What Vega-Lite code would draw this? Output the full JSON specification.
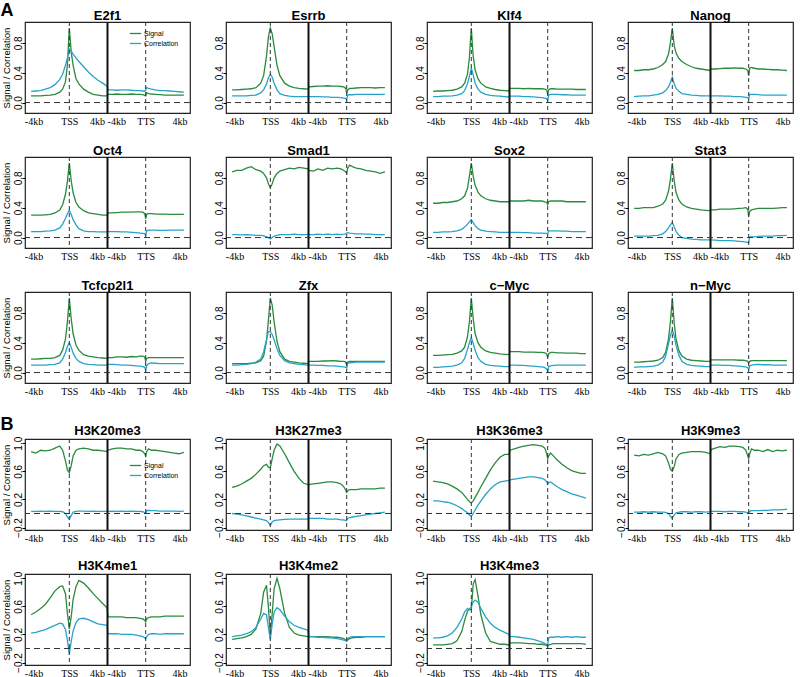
{
"$schema": "https://vega.github.io/schema/vega-lite/v6.json",
"background": "white",
"padding": {"left": 0, "top": 2, "right": 0, "bottom": 0},
"config": {
 "font": "Liberation Sans",
 "view": {"stroke": "#222", "strokeWidth": 1.2},
 "title": {"font": "Liberation Sans", "fontSize": 13, "fontWeight": "bold", "anchor": "middle", "offset": -2, "color": "#000"},
 "axisX": {"ticks": false, "domain": false, "grid": false, "labelFont": "Liberation Serif", "labelFontSize": 10, "labelColor": "#000", "labelPadding": 3, "labelOverlap": false, "labelFlush": false},
 "axisY": {"domain": false, "grid": false, "tickSize": 3, "tickColor": "#000", "labelAngle": -90, "labelAlign": "center", "labelBaseline": "alphabetic", "labelFont": "Liberation Sans", "labelFontSize": 10, "labelColor": "#000", "labelPadding": 1, "labelOverlap": false, "labelFlush": false, "titleFont": "Liberation Sans", "titleFontSize": 9.5, "titleFontWeight": "normal", "titleColor": "#000", "titlePadding": 2},
 "line": {"strokeWidth": 1.3},
 "rule": {"color": "#333", "strokeDash": [4, 3], "strokeWidth": 1}
},
"datasets": {
 "E2f1": [{"x":-4,"s":0.09,"c":0.15},{"x":-3.5,"s":0.09,"c":0.155},{"x":-3,"s":0.09,"c":0.16},{"x":-2.5,"s":0.095,"c":0.18},{"x":-2,"s":0.1,"c":0.2},{"x":-1.5,"s":0.11,"c":0.24},{"x":-1,"s":0.14,"c":0.31},{"x":-0.7,"s":0.18,"c":0.38},{"x":-0.4,"s":0.28,"c":0.5},{"x":-0.2,"s":0.5,"c":0.6},{"x":0,"s":1.0,"c":0.72},{"x":0.2,"s":0.68,"c":0.69},{"x":0.4,"s":0.5,"c":0.65},{"x":0.7,"s":0.32,"c":0.6},{"x":1,"s":0.25,"c":0.55},{"x":1.5,"s":0.18,"c":0.48},{"x":2,"s":0.14,"c":0.41},{"x":2.5,"s":0.11,"c":0.35},{"x":3,"s":0.1,"c":0.3},{"x":3.5,"s":0.09,"c":0.26},{"x":3.95,"s":0.09,"c":0.22},{"x":4.05,"s":0.11,"c":0.17},{"x":4.5,"s":0.11,"c":0.17},{"x":5,"s":0.115,"c":0.165},{"x":5.5,"s":0.11,"c":0.17},{"x":6,"s":0.11,"c":0.17},{"x":6.5,"s":0.115,"c":0.165},{"x":7,"s":0.11,"c":0.16},{"x":7.4,"s":0.11,"c":0.16},{"x":7.7,"s":0.105,"c":0.155},{"x":7.9,"s":0.095,"c":0.15},{"x":8,"s":0.09,"c":0.17},{"x":8.1,"s":0.13,"c":0.2},{"x":8.3,"s":0.12,"c":0.19},{"x":8.6,"s":0.115,"c":0.18},{"x":9,"s":0.11,"c":0.17},{"x":9.5,"s":0.105,"c":0.16},{"x":10,"s":0.1,"c":0.16},{"x":10.5,"s":0.1,"c":0.155},{"x":11,"s":0.1,"c":0.15},{"x":11.5,"s":0.1,"c":0.145},{"x":12,"s":0.1,"c":0.14}],
 "Esrrb": [{"x":-4,"s":0.17,"c":0.09},{"x":-3.5,"s":0.17,"c":0.09},{"x":-3,"s":0.175,"c":0.09},{"x":-2.5,"s":0.18,"c":0.09},{"x":-2,"s":0.185,"c":0.095},{"x":-1.5,"s":0.2,"c":0.1},{"x":-1,"s":0.26,"c":0.13},{"x":-0.7,"s":0.36,"c":0.17},{"x":-0.4,"s":0.62,"c":0.25},{"x":-0.2,"s":0.88,"c":0.33},{"x":0,"s":1.0,"c":0.38},{"x":0.2,"s":0.92,"c":0.34},{"x":0.4,"s":0.75,"c":0.26},{"x":0.7,"s":0.5,"c":0.17},{"x":1,"s":0.36,"c":0.12},{"x":1.5,"s":0.26,"c":0.095},{"x":2,"s":0.22,"c":0.085},{"x":2.5,"s":0.2,"c":0.08},{"x":3,"s":0.19,"c":0.08},{"x":3.5,"s":0.185,"c":0.08},{"x":3.95,"s":0.18,"c":0.08},{"x":4.05,"s":0.21,"c":0.08},{"x":4.5,"s":0.215,"c":0.08},{"x":5,"s":0.22,"c":0.08},{"x":5.5,"s":0.22,"c":0.075},{"x":6,"s":0.225,"c":0.075},{"x":6.5,"s":0.22,"c":0.07},{"x":7,"s":0.22,"c":0.07},{"x":7.4,"s":0.215,"c":0.065},{"x":7.7,"s":0.21,"c":0.06},{"x":7.9,"s":0.19,"c":0.055},{"x":8,"s":0.12,"c":0.04},{"x":8.1,"s":0.17,"c":0.1},{"x":8.3,"s":0.19,"c":0.105},{"x":8.6,"s":0.19,"c":0.105},{"x":9,"s":0.195,"c":0.11},{"x":9.5,"s":0.2,"c":0.11},{"x":10,"s":0.2,"c":0.11},{"x":10.5,"s":0.2,"c":0.11},{"x":11,"s":0.195,"c":0.11},{"x":11.5,"s":0.2,"c":0.11},{"x":12,"s":0.2,"c":0.11}],
 "Klf4": [{"x":-4,"s":0.15,"c":0.08},{"x":-3.5,"s":0.155,"c":0.08},{"x":-3,"s":0.155,"c":0.085},{"x":-2.5,"s":0.16,"c":0.085},{"x":-2,"s":0.165,"c":0.09},{"x":-1.5,"s":0.18,"c":0.1},{"x":-1,"s":0.21,"c":0.12},{"x":-0.7,"s":0.26,"c":0.16},{"x":-0.4,"s":0.38,"c":0.25},{"x":-0.2,"s":0.6,"c":0.35},{"x":0,"s":1.0,"c":0.46},{"x":0.2,"s":0.62,"c":0.37},{"x":0.4,"s":0.44,"c":0.26},{"x":0.7,"s":0.32,"c":0.18},{"x":1,"s":0.26,"c":0.14},{"x":1.5,"s":0.21,"c":0.11},{"x":2,"s":0.19,"c":0.095},{"x":2.5,"s":0.175,"c":0.09},{"x":3,"s":0.165,"c":0.085},{"x":3.5,"s":0.16,"c":0.08},{"x":3.95,"s":0.155,"c":0.075},{"x":4.05,"s":0.19,"c":0.085},{"x":4.5,"s":0.19,"c":0.085},{"x":5,"s":0.19,"c":0.085},{"x":5.5,"s":0.185,"c":0.08},{"x":6,"s":0.19,"c":0.08},{"x":6.5,"s":0.185,"c":0.075},{"x":7,"s":0.185,"c":0.07},{"x":7.4,"s":0.185,"c":0.065},{"x":7.7,"s":0.18,"c":0.06},{"x":7.9,"s":0.17,"c":0.05},{"x":8,"s":0.11,"c":0.03},{"x":8.1,"s":0.17,"c":0.1},{"x":8.3,"s":0.185,"c":0.11},{"x":8.6,"s":0.185,"c":0.11},{"x":9,"s":0.18,"c":0.11},{"x":9.5,"s":0.18,"c":0.105},{"x":10,"s":0.18,"c":0.105},{"x":10.5,"s":0.18,"c":0.1},{"x":11,"s":0.175,"c":0.1},{"x":11.5,"s":0.175,"c":0.1},{"x":12,"s":0.175,"c":0.1}],
 "Nanog": [{"x":-4,"s":0.43,"c":0.08},{"x":-3.5,"s":0.43,"c":0.085},{"x":-3,"s":0.44,"c":0.09},{"x":-2.5,"s":0.44,"c":0.09},{"x":-2,"s":0.45,"c":0.1},{"x":-1.5,"s":0.47,"c":0.11},{"x":-1,"s":0.51,"c":0.13},{"x":-0.7,"s":0.55,"c":0.16},{"x":-0.4,"s":0.65,"c":0.21},{"x":-0.2,"s":0.8,"c":0.27},{"x":0,"s":1.0,"c":0.34},{"x":0.2,"s":0.76,"c":0.25},{"x":0.4,"s":0.66,"c":0.19},{"x":0.7,"s":0.59,"c":0.15},{"x":1,"s":0.55,"c":0.12},{"x":1.5,"s":0.51,"c":0.11},{"x":2,"s":0.48,"c":0.1},{"x":2.5,"s":0.46,"c":0.095},{"x":3,"s":0.45,"c":0.09},{"x":3.5,"s":0.44,"c":0.09},{"x":3.95,"s":0.43,"c":0.09},{"x":4.05,"s":0.45,"c":0.09},{"x":4.5,"s":0.45,"c":0.09},{"x":5,"s":0.455,"c":0.09},{"x":5.5,"s":0.46,"c":0.085},{"x":6,"s":0.46,"c":0.085},{"x":6.5,"s":0.465,"c":0.08},{"x":7,"s":0.46,"c":0.08},{"x":7.4,"s":0.46,"c":0.075},{"x":7.7,"s":0.45,"c":0.07},{"x":7.9,"s":0.43,"c":0.065},{"x":8,"s":0.36,"c":0.05},{"x":8.1,"s":0.46,"c":0.11},{"x":8.3,"s":0.47,"c":0.11},{"x":8.6,"s":0.46,"c":0.11},{"x":9,"s":0.45,"c":0.105},{"x":9.5,"s":0.45,"c":0.1},{"x":10,"s":0.445,"c":0.1},{"x":10.5,"s":0.44,"c":0.1},{"x":11,"s":0.44,"c":0.1},{"x":11.5,"s":0.435,"c":0.1},{"x":12,"s":0.43,"c":0.1}],
 "Oct4": [{"x":-4,"s":0.3,"c":0.08},{"x":-3.5,"s":0.3,"c":0.08},{"x":-3,"s":0.3,"c":0.08},{"x":-2.5,"s":0.305,"c":0.085},{"x":-2,"s":0.31,"c":0.09},{"x":-1.5,"s":0.33,"c":0.1},{"x":-1,"s":0.37,"c":0.13},{"x":-0.7,"s":0.44,"c":0.18},{"x":-0.4,"s":0.58,"c":0.26},{"x":-0.2,"s":0.75,"c":0.32},{"x":0,"s":1.0,"c":0.37},{"x":0.2,"s":0.76,"c":0.31},{"x":0.4,"s":0.6,"c":0.24},{"x":0.7,"s":0.47,"c":0.17},{"x":1,"s":0.41,"c":0.12},{"x":1.5,"s":0.36,"c":0.09},{"x":2,"s":0.33,"c":0.08},{"x":2.5,"s":0.32,"c":0.08},{"x":3,"s":0.31,"c":0.075},{"x":3.5,"s":0.3,"c":0.075},{"x":3.95,"s":0.3,"c":0.075},{"x":4.05,"s":0.33,"c":0.08},{"x":4.5,"s":0.33,"c":0.08},{"x":5,"s":0.335,"c":0.08},{"x":5.5,"s":0.34,"c":0.075},{"x":6,"s":0.34,"c":0.075},{"x":6.5,"s":0.34,"c":0.07},{"x":7,"s":0.345,"c":0.065},{"x":7.4,"s":0.345,"c":0.06},{"x":7.7,"s":0.34,"c":0.055},{"x":7.9,"s":0.32,"c":0.05},{"x":8,"s":0.25,"c":0.03},{"x":8.1,"s":0.31,"c":0.09},{"x":8.3,"s":0.32,"c":0.1},{"x":8.6,"s":0.32,"c":0.1},{"x":9,"s":0.315,"c":0.1},{"x":9.5,"s":0.315,"c":0.095},{"x":10,"s":0.315,"c":0.095},{"x":10.5,"s":0.31,"c":0.1},{"x":11,"s":0.31,"c":0.1},{"x":11.5,"s":0.31,"c":0.1},{"x":12,"s":0.31,"c":0.1}],
 "Smad1": [{"x":-4,"s":0.88,"c":0.04},{"x":-3.5,"s":0.9,"c":0.04},{"x":-3,"s":0.9,"c":0.035},{"x":-2.5,"s":0.93,"c":0.04},{"x":-2,"s":0.95,"c":0.035},{"x":-1.5,"s":0.91,"c":0.03},{"x":-1,"s":0.89,"c":0.03},{"x":-0.7,"s":0.86,"c":0.025},{"x":-0.4,"s":0.8,"c":0.01},{"x":-0.2,"s":0.72,"c":0.0},{"x":0,"s":0.67,"c":-0.02},{"x":0.2,"s":0.72,"c":0.0},{"x":0.4,"s":0.8,"c":0.02},{"x":0.7,"s":0.86,"c":0.03},{"x":1,"s":0.89,"c":0.04},{"x":1.5,"s":0.91,"c":0.04},{"x":2,"s":0.93,"c":0.04},{"x":2.5,"s":0.92,"c":0.045},{"x":3,"s":0.94,"c":0.04},{"x":3.5,"s":0.93,"c":0.04},{"x":3.95,"s":0.92,"c":0.04},{"x":4.05,"s":0.9,"c":0.04},{"x":4.5,"s":0.89,"c":0.04},{"x":5,"s":0.92,"c":0.045},{"x":5.5,"s":0.9,"c":0.04},{"x":6,"s":0.93,"c":0.045},{"x":6.5,"s":0.92,"c":0.04},{"x":7,"s":0.93,"c":0.045},{"x":7.4,"s":0.92,"c":0.04},{"x":7.7,"s":0.9,"c":0.045},{"x":7.9,"s":0.88,"c":0.05},{"x":8,"s":0.86,"c":0.06},{"x":8.1,"s":0.93,"c":0.065},{"x":8.3,"s":0.97,"c":0.06},{"x":8.6,"s":0.95,"c":0.055},{"x":9,"s":0.93,"c":0.05},{"x":9.5,"s":0.92,"c":0.05},{"x":10,"s":0.9,"c":0.045},{"x":10.5,"s":0.89,"c":0.045},{"x":11,"s":0.88,"c":0.04},{"x":11.5,"s":0.86,"c":0.04},{"x":12,"s":0.88,"c":0.04}],
 "Sox2": [{"x":-4,"s":0.46,"c":0.07},{"x":-3.5,"s":0.46,"c":0.07},{"x":-3,"s":0.47,"c":0.075},{"x":-2.5,"s":0.47,"c":0.075},{"x":-2,"s":0.48,"c":0.08},{"x":-1.5,"s":0.49,"c":0.09},{"x":-1,"s":0.52,"c":0.11},{"x":-0.7,"s":0.56,"c":0.14},{"x":-0.4,"s":0.66,"c":0.18},{"x":-0.2,"s":0.82,"c":0.21},{"x":0,"s":1.0,"c":0.24},{"x":0.2,"s":0.82,"c":0.2},{"x":0.4,"s":0.7,"c":0.16},{"x":0.7,"s":0.61,"c":0.12},{"x":1,"s":0.56,"c":0.1},{"x":1.5,"s":0.52,"c":0.085},{"x":2,"s":0.5,"c":0.08},{"x":2.5,"s":0.49,"c":0.075},{"x":3,"s":0.48,"c":0.07},{"x":3.5,"s":0.48,"c":0.07},{"x":3.95,"s":0.48,"c":0.07},{"x":4.05,"s":0.49,"c":0.07},{"x":4.5,"s":0.49,"c":0.07},{"x":5,"s":0.49,"c":0.07},{"x":5.5,"s":0.49,"c":0.065},{"x":6,"s":0.5,"c":0.065},{"x":6.5,"s":0.49,"c":0.06},{"x":7,"s":0.49,"c":0.06},{"x":7.4,"s":0.49,"c":0.06},{"x":7.7,"s":0.48,"c":0.055},{"x":7.9,"s":0.47,"c":0.055},{"x":8,"s":0.44,"c":0.05},{"x":8.1,"s":0.48,"c":0.09},{"x":8.3,"s":0.49,"c":0.09},{"x":8.6,"s":0.49,"c":0.09},{"x":9,"s":0.49,"c":0.09},{"x":9.5,"s":0.49,"c":0.085},{"x":10,"s":0.48,"c":0.085},{"x":10.5,"s":0.48,"c":0.08},{"x":11,"s":0.48,"c":0.08},{"x":11.5,"s":0.48,"c":0.08},{"x":12,"s":0.48,"c":0.08}],
 "Stat3": [{"x":-4,"s":0.39,"c":0.02},{"x":-3.5,"s":0.39,"c":0.02},{"x":-3,"s":0.4,"c":0.02},{"x":-2.5,"s":0.4,"c":0.02},{"x":-2,"s":0.4,"c":0.025},{"x":-1.5,"s":0.42,"c":0.03},{"x":-1,"s":0.45,"c":0.05},{"x":-0.7,"s":0.5,"c":0.08},{"x":-0.4,"s":0.62,"c":0.13},{"x":-0.2,"s":0.78,"c":0.17},{"x":0,"s":1.0,"c":0.2},{"x":0.2,"s":0.76,"c":0.14},{"x":0.4,"s":0.6,"c":0.08},{"x":0.7,"s":0.5,"c":0.03},{"x":1,"s":0.45,"c":0.0},{"x":1.5,"s":0.41,"c":-0.01},{"x":2,"s":0.39,"c":-0.02},{"x":2.5,"s":0.38,"c":-0.025},{"x":3,"s":0.37,"c":-0.03},{"x":3.5,"s":0.365,"c":-0.03},{"x":3.95,"s":0.36,"c":-0.03},{"x":4.05,"s":0.37,"c":-0.03},{"x":4.5,"s":0.37,"c":-0.035},{"x":5,"s":0.38,"c":-0.04},{"x":5.5,"s":0.38,"c":-0.04},{"x":6,"s":0.38,"c":-0.04},{"x":6.5,"s":0.385,"c":-0.045},{"x":7,"s":0.39,"c":-0.05},{"x":7.4,"s":0.395,"c":-0.055},{"x":7.7,"s":0.4,"c":-0.06},{"x":7.9,"s":0.38,"c":-0.065},{"x":8,"s":0.28,"c":-0.07},{"x":8.1,"s":0.35,"c":0.01},{"x":8.3,"s":0.37,"c":0.01},{"x":8.6,"s":0.38,"c":0.01},{"x":9,"s":0.39,"c":0.015},{"x":9.5,"s":0.39,"c":0.02},{"x":10,"s":0.39,"c":0.02},{"x":10.5,"s":0.39,"c":0.02},{"x":11,"s":0.395,"c":0.025},{"x":11.5,"s":0.4,"c":0.025},{"x":12,"s":0.4,"c":0.03}],
 "Tcfcp2l1": [{"x":-4,"s":0.18,"c":0.1},{"x":-3.5,"s":0.18,"c":0.1},{"x":-3,"s":0.185,"c":0.1},{"x":-2.5,"s":0.19,"c":0.1},{"x":-2,"s":0.19,"c":0.105},{"x":-1.5,"s":0.2,"c":0.11},{"x":-1,"s":0.23,"c":0.13},{"x":-0.7,"s":0.3,"c":0.18},{"x":-0.4,"s":0.45,"c":0.27},{"x":-0.2,"s":0.68,"c":0.35},{"x":0,"s":1.0,"c":0.4},{"x":0.2,"s":0.72,"c":0.34},{"x":0.4,"s":0.52,"c":0.26},{"x":0.7,"s":0.37,"c":0.19},{"x":1,"s":0.3,"c":0.15},{"x":1.5,"s":0.24,"c":0.12},{"x":2,"s":0.22,"c":0.11},{"x":2.5,"s":0.21,"c":0.105},{"x":3,"s":0.2,"c":0.1},{"x":3.5,"s":0.195,"c":0.1},{"x":3.95,"s":0.19,"c":0.1},{"x":4.05,"s":0.2,"c":0.11},{"x":4.5,"s":0.2,"c":0.11},{"x":5,"s":0.21,"c":0.105},{"x":5.5,"s":0.21,"c":0.1},{"x":6,"s":0.205,"c":0.1},{"x":6.5,"s":0.215,"c":0.095},{"x":7,"s":0.21,"c":0.09},{"x":7.4,"s":0.22,"c":0.085},{"x":7.7,"s":0.22,"c":0.08},{"x":7.9,"s":0.21,"c":0.07},{"x":8,"s":0.15,"c":0.03},{"x":8.1,"s":0.19,"c":0.09},{"x":8.3,"s":0.2,"c":0.12},{"x":8.6,"s":0.2,"c":0.13},{"x":9,"s":0.2,"c":0.125},{"x":9.5,"s":0.2,"c":0.12},{"x":10,"s":0.2,"c":0.12},{"x":10.5,"s":0.2,"c":0.12},{"x":11,"s":0.2,"c":0.12},{"x":11.5,"s":0.2,"c":0.12},{"x":12,"s":0.2,"c":0.12}],
 "Zfx": [{"x":-4,"s":0.12,"c":0.1},{"x":-3.5,"s":0.12,"c":0.1},{"x":-3,"s":0.12,"c":0.105},{"x":-2.5,"s":0.12,"c":0.11},{"x":-2,"s":0.125,"c":0.12},{"x":-1.5,"s":0.13,"c":0.14},{"x":-1,"s":0.16,"c":0.18},{"x":-0.7,"s":0.22,"c":0.28},{"x":-0.4,"s":0.42,"c":0.44},{"x":-0.2,"s":0.7,"c":0.55},{"x":0,"s":1.0,"c":0.55},{"x":0.2,"s":0.9,"c":0.51},{"x":0.4,"s":0.68,"c":0.44},{"x":0.7,"s":0.42,"c":0.32},{"x":1,"s":0.28,"c":0.23},{"x":1.5,"s":0.18,"c":0.16},{"x":2,"s":0.15,"c":0.13},{"x":2.5,"s":0.14,"c":0.12},{"x":3,"s":0.13,"c":0.11},{"x":3.5,"s":0.125,"c":0.105},{"x":3.95,"s":0.12,"c":0.1},{"x":4.05,"s":0.15,"c":0.1},{"x":4.5,"s":0.15,"c":0.1},{"x":5,"s":0.15,"c":0.095},{"x":5.5,"s":0.155,"c":0.095},{"x":6,"s":0.155,"c":0.09},{"x":6.5,"s":0.16,"c":0.09},{"x":7,"s":0.155,"c":0.085},{"x":7.4,"s":0.15,"c":0.08},{"x":7.7,"s":0.15,"c":0.075},{"x":7.9,"s":0.14,"c":0.07},{"x":8,"s":0.1,"c":0.06},{"x":8.1,"s":0.14,"c":0.12},{"x":8.3,"s":0.15,"c":0.13},{"x":8.6,"s":0.15,"c":0.135},{"x":9,"s":0.15,"c":0.14},{"x":9.5,"s":0.15,"c":0.14},{"x":10,"s":0.15,"c":0.14},{"x":10.5,"s":0.15,"c":0.14},{"x":11,"s":0.15,"c":0.14},{"x":11.5,"s":0.15,"c":0.14},{"x":12,"s":0.15,"c":0.14}],
 "c-Myc": [{"x":-4,"s":0.23,"c":0.07},{"x":-3.5,"s":0.23,"c":0.07},{"x":-3,"s":0.235,"c":0.075},{"x":-2.5,"s":0.24,"c":0.08},{"x":-2,"s":0.245,"c":0.085},{"x":-1.5,"s":0.26,"c":0.1},{"x":-1,"s":0.29,"c":0.13},{"x":-0.7,"s":0.34,"c":0.19},{"x":-0.4,"s":0.48,"c":0.31},{"x":-0.2,"s":0.68,"c":0.4},{"x":0,"s":1.0,"c":0.47},{"x":0.2,"s":0.72,"c":0.39},{"x":0.4,"s":0.52,"c":0.3},{"x":0.7,"s":0.4,"c":0.2},{"x":1,"s":0.34,"c":0.15},{"x":1.5,"s":0.29,"c":0.11},{"x":2,"s":0.27,"c":0.095},{"x":2.5,"s":0.26,"c":0.09},{"x":3,"s":0.25,"c":0.085},{"x":3.5,"s":0.245,"c":0.08},{"x":3.95,"s":0.24,"c":0.08},{"x":4.05,"s":0.28,"c":0.1},{"x":4.5,"s":0.28,"c":0.1},{"x":5,"s":0.28,"c":0.095},{"x":5.5,"s":0.275,"c":0.095},{"x":6,"s":0.275,"c":0.09},{"x":6.5,"s":0.275,"c":0.085},{"x":7,"s":0.27,"c":0.08},{"x":7.4,"s":0.27,"c":0.075},{"x":7.7,"s":0.265,"c":0.065},{"x":7.9,"s":0.25,"c":0.05},{"x":8,"s":0.2,"c":0.01},{"x":8.1,"s":0.25,"c":0.08},{"x":8.3,"s":0.27,"c":0.09},{"x":8.6,"s":0.27,"c":0.095},{"x":9,"s":0.265,"c":0.1},{"x":9.5,"s":0.265,"c":0.1},{"x":10,"s":0.26,"c":0.1},{"x":10.5,"s":0.26,"c":0.1},{"x":11,"s":0.26,"c":0.1},{"x":11.5,"s":0.255,"c":0.1},{"x":12,"s":0.255,"c":0.1}],
 "n-Myc": [{"x":-4,"s":0.14,"c":0.07},{"x":-3.5,"s":0.14,"c":0.075},{"x":-3,"s":0.145,"c":0.075},{"x":-2.5,"s":0.15,"c":0.08},{"x":-2,"s":0.155,"c":0.085},{"x":-1.5,"s":0.165,"c":0.1},{"x":-1,"s":0.2,"c":0.14},{"x":-0.7,"s":0.27,"c":0.22},{"x":-0.4,"s":0.45,"c":0.38},{"x":-0.2,"s":0.68,"c":0.5},{"x":0,"s":1.0,"c":0.57},{"x":0.2,"s":0.66,"c":0.49},{"x":0.4,"s":0.44,"c":0.36},{"x":0.7,"s":0.29,"c":0.23},{"x":1,"s":0.22,"c":0.15},{"x":1.5,"s":0.18,"c":0.11},{"x":2,"s":0.165,"c":0.095},{"x":2.5,"s":0.16,"c":0.09},{"x":3,"s":0.155,"c":0.085},{"x":3.5,"s":0.15,"c":0.08},{"x":3.95,"s":0.15,"c":0.08},{"x":4.05,"s":0.17,"c":0.1},{"x":4.5,"s":0.17,"c":0.1},{"x":5,"s":0.17,"c":0.1},{"x":5.5,"s":0.17,"c":0.095},{"x":6,"s":0.17,"c":0.095},{"x":6.5,"s":0.17,"c":0.09},{"x":7,"s":0.165,"c":0.085},{"x":7.4,"s":0.165,"c":0.08},{"x":7.7,"s":0.16,"c":0.075},{"x":7.9,"s":0.15,"c":0.065},{"x":8,"s":0.12,"c":0.04},{"x":8.1,"s":0.15,"c":0.09},{"x":8.3,"s":0.16,"c":0.1},{"x":8.6,"s":0.16,"c":0.105},{"x":9,"s":0.16,"c":0.11},{"x":9.5,"s":0.16,"c":0.105},{"x":10,"s":0.16,"c":0.105},{"x":10.5,"s":0.16,"c":0.1},{"x":11,"s":0.16,"c":0.1},{"x":11.5,"s":0.16,"c":0.1},{"x":12,"s":0.16,"c":0.1}],
 "H3K20me3": [{"x":-4,"s":0.88,"c":0.03},{"x":-3.5,"s":0.86,"c":0.03},{"x":-3,"s":0.9,"c":0.035},{"x":-2.5,"s":0.89,"c":0.03},{"x":-2,"s":0.9,"c":0.035},{"x":-1.5,"s":0.93,"c":0.03},{"x":-1,"s":0.96,"c":0.03},{"x":-0.7,"s":0.9,"c":0.025},{"x":-0.4,"s":0.75,"c":0.0},{"x":-0.2,"s":0.62,"c":-0.05},{"x":0,"s":0.58,"c":-0.08},{"x":0.2,"s":0.68,"c":-0.03},{"x":0.4,"s":0.82,"c":0.02},{"x":0.7,"s":0.9,"c":0.03},{"x":1,"s":0.92,"c":0.035},{"x":1.5,"s":0.93,"c":0.035},{"x":2,"s":0.92,"c":0.03},{"x":2.5,"s":0.9,"c":0.035},{"x":3,"s":0.9,"c":0.03},{"x":3.5,"s":0.89,"c":0.03},{"x":3.95,"s":0.88,"c":0.03},{"x":4.05,"s":0.9,"c":0.03},{"x":4.5,"s":0.92,"c":0.035},{"x":5,"s":0.93,"c":0.03},{"x":5.5,"s":0.93,"c":0.035},{"x":6,"s":0.92,"c":0.03},{"x":6.5,"s":0.92,"c":0.035},{"x":7,"s":0.9,"c":0.03},{"x":7.4,"s":0.9,"c":0.03},{"x":7.7,"s":0.88,"c":0.025},{"x":7.9,"s":0.85,"c":0.01},{"x":8,"s":0.82,"c":0.0},{"x":8.1,"s":0.88,"c":0.04},{"x":8.3,"s":0.92,"c":0.045},{"x":8.6,"s":0.9,"c":0.04},{"x":9,"s":0.9,"c":0.04},{"x":9.5,"s":0.89,"c":0.035},{"x":10,"s":0.88,"c":0.035},{"x":10.5,"s":0.87,"c":0.035},{"x":11,"s":0.86,"c":0.035},{"x":11.5,"s":0.85,"c":0.03},{"x":12,"s":0.87,"c":0.035}],
 "H3K27me3": [{"x":-4,"s":0.37,"c":0.0},{"x":-3.5,"s":0.39,"c":-0.01},{"x":-3,"s":0.42,"c":-0.02},{"x":-2.5,"s":0.46,"c":-0.035},{"x":-2,"s":0.5,"c":-0.05},{"x":-1.5,"s":0.56,"c":-0.065},{"x":-1,"s":0.63,"c":-0.08},{"x":-0.7,"s":0.68,"c":-0.09},{"x":-0.4,"s":0.7,"c":-0.1},{"x":-0.2,"s":0.66,"c":-0.13},{"x":0,"s":0.65,"c":-0.17},{"x":0.2,"s":0.78,"c":-0.12},{"x":0.4,"s":0.9,"c":-0.1},{"x":0.7,"s":0.99,"c":-0.095},{"x":1,"s":0.96,"c":-0.09},{"x":1.5,"s":0.85,"c":-0.085},{"x":2,"s":0.72,"c":-0.08},{"x":2.5,"s":0.6,"c":-0.08},{"x":3,"s":0.5,"c":-0.08},{"x":3.5,"s":0.43,"c":-0.08},{"x":3.95,"s":0.41,"c":-0.08},{"x":4.05,"s":0.41,"c":-0.07},{"x":4.5,"s":0.42,"c":-0.07},{"x":5,"s":0.43,"c":-0.07},{"x":5.5,"s":0.44,"c":-0.07},{"x":6,"s":0.45,"c":-0.08},{"x":6.5,"s":0.45,"c":-0.08},{"x":7,"s":0.44,"c":-0.08},{"x":7.4,"s":0.42,"c":-0.09},{"x":7.7,"s":0.38,"c":-0.09},{"x":7.9,"s":0.33,"c":-0.1},{"x":8,"s":0.3,"c":-0.1},{"x":8.1,"s":0.32,"c":-0.07},{"x":8.3,"s":0.34,"c":-0.06},{"x":8.6,"s":0.34,"c":-0.05},{"x":9,"s":0.34,"c":-0.04},{"x":9.5,"s":0.35,"c":-0.03},{"x":10,"s":0.35,"c":-0.02},{"x":10.5,"s":0.35,"c":-0.01},{"x":11,"s":0.35,"c":0.0},{"x":11.5,"s":0.36,"c":0.01},{"x":12,"s":0.36,"c":0.02}],
 "H3K36me3": [{"x":-4,"s":0.46,"c":0.18},{"x":-3.5,"s":0.45,"c":0.18},{"x":-3,"s":0.44,"c":0.17},{"x":-2.5,"s":0.42,"c":0.16},{"x":-2,"s":0.39,"c":0.14},{"x":-1.5,"s":0.35,"c":0.11},{"x":-1,"s":0.3,"c":0.07},{"x":-0.7,"s":0.25,"c":0.04},{"x":-0.4,"s":0.2,"c":0.01},{"x":-0.2,"s":0.17,"c":-0.02},{"x":0,"s":0.15,"c":-0.04},{"x":0.2,"s":0.18,"c":0.0},{"x":0.4,"s":0.23,"c":0.05},{"x":0.7,"s":0.3,"c":0.12},{"x":1,"s":0.38,"c":0.18},{"x":1.5,"s":0.5,"c":0.27},{"x":2,"s":0.62,"c":0.35},{"x":2.5,"s":0.72,"c":0.41},{"x":3,"s":0.8,"c":0.45},{"x":3.5,"s":0.84,"c":0.46},{"x":3.95,"s":0.84,"c":0.47},{"x":4.05,"s":0.9,"c":0.48},{"x":4.5,"s":0.92,"c":0.49},{"x":5,"s":0.94,"c":0.5},{"x":5.5,"s":0.96,"c":0.51},{"x":6,"s":0.97,"c":0.52},{"x":6.5,"s":0.98,"c":0.52},{"x":7,"s":0.97,"c":0.51},{"x":7.4,"s":0.96,"c":0.5},{"x":7.7,"s":0.93,"c":0.48},{"x":7.9,"s":0.85,"c":0.45},{"x":8,"s":0.78,"c":0.42},{"x":8.1,"s":0.82,"c":0.44},{"x":8.3,"s":0.86,"c":0.45},{"x":8.6,"s":0.82,"c":0.42},{"x":9,"s":0.76,"c":0.38},{"x":9.5,"s":0.7,"c":0.34},{"x":10,"s":0.65,"c":0.31},{"x":10.5,"s":0.61,"c":0.28},{"x":11,"s":0.59,"c":0.26},{"x":11.5,"s":0.57,"c":0.24},{"x":12,"s":0.57,"c":0.22}],
 "H3K9me3": [{"x":-4,"s":0.83,"c":0.02},{"x":-3.5,"s":0.82,"c":0.02},{"x":-3,"s":0.84,"c":0.025},{"x":-2.5,"s":0.83,"c":0.02},{"x":-2,"s":0.85,"c":0.025},{"x":-1.5,"s":0.87,"c":0.02},{"x":-1,"s":0.85,"c":0.02},{"x":-0.7,"s":0.82,"c":0.015},{"x":-0.4,"s":0.72,"c":0.0},{"x":-0.2,"s":0.63,"c":-0.04},{"x":0,"s":0.6,"c":-0.07},{"x":0.2,"s":0.67,"c":-0.02},{"x":0.4,"s":0.78,"c":0.01},{"x":0.7,"s":0.84,"c":0.02},{"x":1,"s":0.86,"c":0.025},{"x":1.5,"s":0.87,"c":0.025},{"x":2,"s":0.88,"c":0.02},{"x":2.5,"s":0.88,"c":0.025},{"x":3,"s":0.88,"c":0.025},{"x":3.5,"s":0.87,"c":0.02},{"x":3.95,"s":0.85,"c":0.025},{"x":4.05,"s":0.91,"c":0.03},{"x":4.5,"s":0.93,"c":0.03},{"x":5,"s":0.95,"c":0.03},{"x":5.5,"s":0.94,"c":0.025},{"x":6,"s":0.96,"c":0.03},{"x":6.5,"s":0.96,"c":0.03},{"x":7,"s":0.95,"c":0.025},{"x":7.4,"s":0.94,"c":0.025},{"x":7.7,"s":0.9,"c":0.02},{"x":7.9,"s":0.82,"c":0.01},{"x":8,"s":0.78,"c":0.0},{"x":8.1,"s":0.85,"c":0.03},{"x":8.3,"s":0.92,"c":0.04},{"x":8.6,"s":0.9,"c":0.04},{"x":9,"s":0.9,"c":0.04},{"x":9.5,"s":0.88,"c":0.045},{"x":10,"s":0.91,"c":0.045},{"x":10.5,"s":0.88,"c":0.05},{"x":11,"s":0.9,"c":0.05},{"x":11.5,"s":0.89,"c":0.055},{"x":12,"s":0.9,"c":0.06}],
 "H3K4me1": [{"x":-4,"s":0.48,"c":0.22},{"x":-3.5,"s":0.52,"c":0.23},{"x":-3,"s":0.57,"c":0.25},{"x":-2.5,"s":0.63,"c":0.27},{"x":-2,"s":0.72,"c":0.3},{"x":-1.5,"s":0.82,"c":0.33},{"x":-1,"s":0.88,"c":0.36},{"x":-0.7,"s":0.89,"c":0.35},{"x":-0.4,"s":0.78,"c":0.27},{"x":-0.2,"s":0.5,"c":0.12},{"x":0,"s":0.28,"c":-0.08},{"x":0.2,"s":0.45,"c":0.1},{"x":0.4,"s":0.7,"c":0.25},{"x":0.7,"s":0.88,"c":0.37},{"x":1,"s":0.97,"c":0.42},{"x":1.5,"s":0.93,"c":0.43},{"x":2,"s":0.86,"c":0.41},{"x":2.5,"s":0.78,"c":0.38},{"x":3,"s":0.71,"c":0.35},{"x":3.5,"s":0.64,"c":0.34},{"x":3.95,"s":0.58,"c":0.33},{"x":4.05,"s":0.45,"c":0.21},{"x":4.5,"s":0.45,"c":0.21},{"x":5,"s":0.45,"c":0.21},{"x":5.5,"s":0.45,"c":0.2},{"x":6,"s":0.44,"c":0.2},{"x":6.5,"s":0.44,"c":0.2},{"x":7,"s":0.44,"c":0.19},{"x":7.4,"s":0.43,"c":0.18},{"x":7.7,"s":0.42,"c":0.17},{"x":7.9,"s":0.4,"c":0.15},{"x":8,"s":0.38,"c":0.14},{"x":8.1,"s":0.42,"c":0.17},{"x":8.3,"s":0.44,"c":0.2},{"x":8.6,"s":0.45,"c":0.21},{"x":9,"s":0.45,"c":0.21},{"x":9.5,"s":0.45,"c":0.2},{"x":10,"s":0.46,"c":0.21},{"x":10.5,"s":0.46,"c":0.21},{"x":11,"s":0.46,"c":0.21},{"x":11.5,"s":0.46,"c":0.21},{"x":12,"s":0.46,"c":0.21}],
 "H3K4me2": [{"x":-4,"s":0.13,"c":0.17},{"x":-3.5,"s":0.14,"c":0.18},{"x":-3,"s":0.15,"c":0.19},{"x":-2.5,"s":0.17,"c":0.21},{"x":-2,"s":0.2,"c":0.24},{"x":-1.5,"s":0.28,"c":0.3},{"x":-1,"s":0.5,"c":0.42},{"x":-0.7,"s":0.8,"c":0.5},{"x":-0.4,"s":0.9,"c":0.48},{"x":-0.2,"s":0.6,"c":0.3},{"x":0,"s":0.17,"c":0.13},{"x":0.2,"s":0.5,"c":0.35},{"x":0.4,"s":0.85,"c":0.52},{"x":0.7,"s":1.0,"c":0.58},{"x":1,"s":0.85,"c":0.55},{"x":1.5,"s":0.5,"c":0.46},{"x":2,"s":0.3,"c":0.38},{"x":2.5,"s":0.22,"c":0.33},{"x":3,"s":0.19,"c":0.3},{"x":3.5,"s":0.18,"c":0.28},{"x":3.95,"s":0.17,"c":0.26},{"x":4.05,"s":0.17,"c":0.17},{"x":4.5,"s":0.17,"c":0.17},{"x":5,"s":0.17,"c":0.16},{"x":5.5,"s":0.17,"c":0.16},{"x":6,"s":0.17,"c":0.15},{"x":6.5,"s":0.16,"c":0.15},{"x":7,"s":0.16,"c":0.14},{"x":7.4,"s":0.15,"c":0.13},{"x":7.7,"s":0.14,"c":0.12},{"x":7.9,"s":0.12,"c":0.11},{"x":8,"s":0.11,"c":0.1},{"x":8.1,"s":0.12,"c":0.14},{"x":8.3,"s":0.14,"c":0.16},{"x":8.6,"s":0.15,"c":0.17},{"x":9,"s":0.16,"c":0.17},{"x":9.5,"s":0.16,"c":0.17},{"x":10,"s":0.17,"c":0.17},{"x":10.5,"s":0.17,"c":0.17},{"x":11,"s":0.17,"c":0.17},{"x":11.5,"s":0.17,"c":0.17},{"x":12,"s":0.17,"c":0.17}],
 "H3K4me3": [{"x":-4,"s":0.05,"c":0.15},{"x":-3.5,"s":0.05,"c":0.15},{"x":-3,"s":0.05,"c":0.16},{"x":-2.5,"s":0.06,"c":0.18},{"x":-2,"s":0.07,"c":0.22},{"x":-1.5,"s":0.11,"c":0.3},{"x":-1,"s":0.24,"c":0.42},{"x":-0.7,"s":0.4,"c":0.52},{"x":-0.4,"s":0.53,"c":0.57},{"x":-0.2,"s":0.56,"c":0.55},{"x":0,"s":0.55,"c":0.6},{"x":0.2,"s":0.92,"c":0.66},{"x":0.4,"s":0.98,"c":0.69},{"x":0.7,"s":0.75,"c":0.66},{"x":1,"s":0.48,"c":0.57},{"x":1.5,"s":0.22,"c":0.45},{"x":2,"s":0.1,"c":0.36},{"x":2.5,"s":0.08,"c":0.3},{"x":3,"s":0.06,"c":0.26},{"x":3.5,"s":0.06,"c":0.23},{"x":3.95,"s":0.05,"c":0.2},{"x":4.05,"s":0.08,"c":0.17},{"x":4.5,"s":0.08,"c":0.17},{"x":5,"s":0.08,"c":0.16},{"x":5.5,"s":0.075,"c":0.15},{"x":6,"s":0.07,"c":0.14},{"x":6.5,"s":0.07,"c":0.13},{"x":7,"s":0.06,"c":0.11},{"x":7.4,"s":0.06,"c":0.09},{"x":7.7,"s":0.05,"c":0.07},{"x":7.9,"s":0.04,"c":0.06},{"x":8,"s":0.03,"c":0.05},{"x":8.1,"s":0.05,"c":0.15},{"x":8.3,"s":0.06,"c":0.16},{"x":8.6,"s":0.07,"c":0.16},{"x":9,"s":0.07,"c":0.17},{"x":9.5,"s":0.07,"c":0.16},{"x":10,"s":0.07,"c":0.17},{"x":10.5,"s":0.07,"c":0.16},{"x":11,"s":0.07,"c":0.17},{"x":11.5,"s":0.07,"c":0.16},{"x":12,"s":0.06,"c":0.16}]
},
"spacing": 18,
"resolve": {"scale": {"color": "independent"}},
"vconcat": [
 {"title": {"text": "A", "anchor": "start", "fontSize": 18, "offset": -11},
  "spacing": 17,
  "resolve": {"scale": {"color": "independent"}},
  "vconcat": [
   {"spacing": 21, "resolve": {"scale": {"color": "independent"}}, "hconcat": [
    {"title": "E2f1", "width": 165, "height": 91, "layer": [
      {"data": {"name": "E2f1"}, "transform": [{"fold": ["s", "c"]}], "mark": "line", "encoding": {
        "x": {"field": "x", "type": "quantitative", "title": null, "scale": {"domain": [-4.64, 12.64], "nice": false, "zero": false}, "axis": {"values": [-3.75, 0, 4, 8, 11.55], "labelOverlap": false, "labelExpr": "datum.value<-1?'-4kb':datum.value==0?'TSS':datum.value==4?'4kb -4kb':datum.value==8?'TTS':'4kb'"}},
        "y": {"field": "value", "type": "quantitative", "title": "Signal / Correlation", "scale": {"domain": [-0.14, 1.08], "nice": false, "zero": false}, "axis": {"values": [0, 0.2, 0.4, 0.6, 0.8, 1], "labelOverlap": false, "labelExpr": "datum.value==0||datum.value==0.4||datum.value==0.8?format(datum.value,'.1f'):''"}},
        "color": {"field": "key", "type": "nominal", "scale": {"domain": ["s", "c"], "range": ["#2a8a3e", "#27a3cb"]}, "legend": {"orient": "none", "legendX": 104, "legendY": 5, "title": null, "symbolType": "stroke", "symbolSize": 130, "symbolStrokeWidth": 1.5, "labelFontSize": 7, "labelFont": "Liberation Sans", "labelExpr": "datum.label=='s'?'Signal':'Correlation'", "rowPadding": -2, "labelOffset": 2, "padding": 0}}}},
      {"data": {"values": [{}]}, "mark": "rule", "encoding": {"x": {"datum": 0}}},
      {"data": {"values": [{}]}, "mark": "rule", "encoding": {"x": {"datum": 8}}},
      {"data": {"values": [{}]}, "mark": {"type": "rule", "strokeDash": [1, 0], "strokeWidth": 2, "color": "#111"}, "encoding": {"x": {"datum": 4}}},
      {"data": {"values": [{}]}, "mark": {"type": "rule", "strokeDash": [6, 4]}, "encoding": {"y": {"datum": 0}}}
    ]},
    {"title": "Esrrb", "width": 165, "height": 91, "layer": [
      {"data": {"name": "Esrrb"}, "transform": [{"fold": ["s", "c"]}], "mark": "line", "encoding": {
        "x": {"field": "x", "type": "quantitative", "title": null, "scale": {"domain": [-4.64, 12.64], "nice": false, "zero": false}, "axis": {"values": [-3.75, 0, 4, 8, 11.55], "labelOverlap": false, "labelExpr": "datum.value<-1?'-4kb':datum.value==0?'TSS':datum.value==4?'4kb -4kb':datum.value==8?'TTS':'4kb'"}},
        "y": {"field": "value", "type": "quantitative", "title": null, "scale": {"domain": [-0.14, 1.08], "nice": false, "zero": false}, "axis": {"values": [0, 0.2, 0.4, 0.6, 0.8, 1], "labelOverlap": false, "labelExpr": "datum.value==0||datum.value==0.4||datum.value==0.8?format(datum.value,'.1f'):''"}},
        "color": {"field": "key", "type": "nominal", "scale": {"domain": ["s", "c"], "range": ["#2a8a3e", "#27a3cb"]}, "legend": null}}},
      {"data": {"values": [{}]}, "mark": "rule", "encoding": {"x": {"datum": 0}}},
      {"data": {"values": [{}]}, "mark": "rule", "encoding": {"x": {"datum": 8}}},
      {"data": {"values": [{}]}, "mark": {"type": "rule", "strokeDash": [1, 0], "strokeWidth": 2, "color": "#111"}, "encoding": {"x": {"datum": 4}}},
      {"data": {"values": [{}]}, "mark": {"type": "rule", "strokeDash": [6, 4]}, "encoding": {"y": {"datum": 0}}}
    ]},
    {"title": "Klf4", "width": 165, "height": 91, "layer": [
      {"data": {"name": "Klf4"}, "transform": [{"fold": ["s", "c"]}], "mark": "line", "encoding": {
        "x": {"field": "x", "type": "quantitative", "title": null, "scale": {"domain": [-4.64, 12.64], "nice": false, "zero": false}, "axis": {"values": [-3.75, 0, 4, 8, 11.55], "labelOverlap": false, "labelExpr": "datum.value<-1?'-4kb':datum.value==0?'TSS':datum.value==4?'4kb -4kb':datum.value==8?'TTS':'4kb'"}},
        "y": {"field": "value", "type": "quantitative", "title": null, "scale": {"domain": [-0.14, 1.08], "nice": false, "zero": false}, "axis": {"values": [0, 0.2, 0.4, 0.6, 0.8, 1], "labelOverlap": false, "labelExpr": "datum.value==0||datum.value==0.4||datum.value==0.8?format(datum.value,'.1f'):''"}},
        "color": {"field": "key", "type": "nominal", "scale": {"domain": ["s", "c"], "range": ["#2a8a3e", "#27a3cb"]}, "legend": null}}},
      {"data": {"values": [{}]}, "mark": "rule", "encoding": {"x": {"datum": 0}}},
      {"data": {"values": [{}]}, "mark": "rule", "encoding": {"x": {"datum": 8}}},
      {"data": {"values": [{}]}, "mark": {"type": "rule", "strokeDash": [1, 0], "strokeWidth": 2, "color": "#111"}, "encoding": {"x": {"datum": 4}}},
      {"data": {"values": [{}]}, "mark": {"type": "rule", "strokeDash": [6, 4]}, "encoding": {"y": {"datum": 0}}}
    ]},
    {"title": "Nanog", "width": 165, "height": 91, "layer": [
      {"data": {"name": "Nanog"}, "transform": [{"fold": ["s", "c"]}], "mark": "line", "encoding": {
        "x": {"field": "x", "type": "quantitative", "title": null, "scale": {"domain": [-4.64, 12.64], "nice": false, "zero": false}, "axis": {"values": [-3.75, 0, 4, 8, 11.55], "labelOverlap": false, "labelExpr": "datum.value<-1?'-4kb':datum.value==0?'TSS':datum.value==4?'4kb -4kb':datum.value==8?'TTS':'4kb'"}},
        "y": {"field": "value", "type": "quantitative", "title": null, "scale": {"domain": [-0.14, 1.08], "nice": false, "zero": false}, "axis": {"values": [0, 0.2, 0.4, 0.6, 0.8, 1], "labelOverlap": false, "labelExpr": "datum.value==0||datum.value==0.4||datum.value==0.8?format(datum.value,'.1f'):''"}},
        "color": {"field": "key", "type": "nominal", "scale": {"domain": ["s", "c"], "range": ["#2a8a3e", "#27a3cb"]}, "legend": null}}},
      {"data": {"values": [{}]}, "mark": "rule", "encoding": {"x": {"datum": 0}}},
      {"data": {"values": [{}]}, "mark": "rule", "encoding": {"x": {"datum": 8}}},
      {"data": {"values": [{}]}, "mark": {"type": "rule", "strokeDash": [1, 0], "strokeWidth": 2, "color": "#111"}, "encoding": {"x": {"datum": 4}}},
      {"data": {"values": [{}]}, "mark": {"type": "rule", "strokeDash": [6, 4]}, "encoding": {"y": {"datum": 0}}}
    ]}
   ]},
   {"spacing": 21, "resolve": {"scale": {"color": "independent"}}, "hconcat": [
    {"title": "Oct4", "width": 165, "height": 91, "layer": [
      {"data": {"name": "Oct4"}, "transform": [{"fold": ["s", "c"]}], "mark": "line", "encoding": {
        "x": {"field": "x", "type": "quantitative", "title": null, "scale": {"domain": [-4.64, 12.64], "nice": false, "zero": false}, "axis": {"values": [-3.75, 0, 4, 8, 11.55], "labelOverlap": false, "labelExpr": "datum.value<-1?'-4kb':datum.value==0?'TSS':datum.value==4?'4kb -4kb':datum.value==8?'TTS':'4kb'"}},
        "y": {"field": "value", "type": "quantitative", "title": "Signal / Correlation", "scale": {"domain": [-0.14, 1.08], "nice": false, "zero": false}, "axis": {"values": [0, 0.2, 0.4, 0.6, 0.8, 1], "labelOverlap": false, "labelExpr": "datum.value==0||datum.value==0.4||datum.value==0.8?format(datum.value,'.1f'):''"}},
        "color": {"field": "key", "type": "nominal", "scale": {"domain": ["s", "c"], "range": ["#2a8a3e", "#27a3cb"]}, "legend": null}}},
      {"data": {"values": [{}]}, "mark": "rule", "encoding": {"x": {"datum": 0}}},
      {"data": {"values": [{}]}, "mark": "rule", "encoding": {"x": {"datum": 8}}},
      {"data": {"values": [{}]}, "mark": {"type": "rule", "strokeDash": [1, 0], "strokeWidth": 2, "color": "#111"}, "encoding": {"x": {"datum": 4}}},
      {"data": {"values": [{}]}, "mark": {"type": "rule", "strokeDash": [6, 4]}, "encoding": {"y": {"datum": 0}}}
    ]},
    {"title": "Smad1", "width": 165, "height": 91, "layer": [
      {"data": {"name": "Smad1"}, "transform": [{"fold": ["s", "c"]}], "mark": "line", "encoding": {
        "x": {"field": "x", "type": "quantitative", "title": null, "scale": {"domain": [-4.64, 12.64], "nice": false, "zero": false}, "axis": {"values": [-3.75, 0, 4, 8, 11.55], "labelOverlap": false, "labelExpr": "datum.value<-1?'-4kb':datum.value==0?'TSS':datum.value==4?'4kb -4kb':datum.value==8?'TTS':'4kb'"}},
        "y": {"field": "value", "type": "quantitative", "title": null, "scale": {"domain": [-0.14, 1.08], "nice": false, "zero": false}, "axis": {"values": [0, 0.2, 0.4, 0.6, 0.8, 1], "labelOverlap": false, "labelExpr": "datum.value==0||datum.value==0.4||datum.value==0.8?format(datum.value,'.1f'):''"}},
        "color": {"field": "key", "type": "nominal", "scale": {"domain": ["s", "c"], "range": ["#2a8a3e", "#27a3cb"]}, "legend": null}}},
      {"data": {"values": [{}]}, "mark": "rule", "encoding": {"x": {"datum": 0}}},
      {"data": {"values": [{}]}, "mark": "rule", "encoding": {"x": {"datum": 8}}},
      {"data": {"values": [{}]}, "mark": {"type": "rule", "strokeDash": [1, 0], "strokeWidth": 2, "color": "#111"}, "encoding": {"x": {"datum": 4}}},
      {"data": {"values": [{}]}, "mark": {"type": "rule", "strokeDash": [6, 4]}, "encoding": {"y": {"datum": 0}}}
    ]},
    {"title": "Sox2", "width": 165, "height": 91, "layer": [
      {"data": {"name": "Sox2"}, "transform": [{"fold": ["s", "c"]}], "mark": "line", "encoding": {
        "x": {"field": "x", "type": "quantitative", "title": null, "scale": {"domain": [-4.64, 12.64], "nice": false, "zero": false}, "axis": {"values": [-3.75, 0, 4, 8, 11.55], "labelOverlap": false, "labelExpr": "datum.value<-1?'-4kb':datum.value==0?'TSS':datum.value==4?'4kb -4kb':datum.value==8?'TTS':'4kb'"}},
        "y": {"field": "value", "type": "quantitative", "title": null, "scale": {"domain": [-0.14, 1.08], "nice": false, "zero": false}, "axis": {"values": [0, 0.2, 0.4, 0.6, 0.8, 1], "labelOverlap": false, "labelExpr": "datum.value==0||datum.value==0.4||datum.value==0.8?format(datum.value,'.1f'):''"}},
        "color": {"field": "key", "type": "nominal", "scale": {"domain": ["s", "c"], "range": ["#2a8a3e", "#27a3cb"]}, "legend": null}}},
      {"data": {"values": [{}]}, "mark": "rule", "encoding": {"x": {"datum": 0}}},
      {"data": {"values": [{}]}, "mark": "rule", "encoding": {"x": {"datum": 8}}},
      {"data": {"values": [{}]}, "mark": {"type": "rule", "strokeDash": [1, 0], "strokeWidth": 2, "color": "#111"}, "encoding": {"x": {"datum": 4}}},
      {"data": {"values": [{}]}, "mark": {"type": "rule", "strokeDash": [6, 4]}, "encoding": {"y": {"datum": 0}}}
    ]},
    {"title": "Stat3", "width": 165, "height": 91, "layer": [
      {"data": {"name": "Stat3"}, "transform": [{"fold": ["s", "c"]}], "mark": "line", "encoding": {
        "x": {"field": "x", "type": "quantitative", "title": null, "scale": {"domain": [-4.64, 12.64], "nice": false, "zero": false}, "axis": {"values": [-3.75, 0, 4, 8, 11.55], "labelOverlap": false, "labelExpr": "datum.value<-1?'-4kb':datum.value==0?'TSS':datum.value==4?'4kb -4kb':datum.value==8?'TTS':'4kb'"}},
        "y": {"field": "value", "type": "quantitative", "title": null, "scale": {"domain": [-0.14, 1.08], "nice": false, "zero": false}, "axis": {"values": [0, 0.2, 0.4, 0.6, 0.8, 1], "labelOverlap": false, "labelExpr": "datum.value==0||datum.value==0.4||datum.value==0.8?format(datum.value,'.1f'):''"}},
        "color": {"field": "key", "type": "nominal", "scale": {"domain": ["s", "c"], "range": ["#2a8a3e", "#27a3cb"]}, "legend": null}}},
      {"data": {"values": [{}]}, "mark": "rule", "encoding": {"x": {"datum": 0}}},
      {"data": {"values": [{}]}, "mark": "rule", "encoding": {"x": {"datum": 8}}},
      {"data": {"values": [{}]}, "mark": {"type": "rule", "strokeDash": [1, 0], "strokeWidth": 2, "color": "#111"}, "encoding": {"x": {"datum": 4}}},
      {"data": {"values": [{}]}, "mark": {"type": "rule", "strokeDash": [6, 4]}, "encoding": {"y": {"datum": 0}}}
    ]}
   ]},
   {"spacing": 21, "resolve": {"scale": {"color": "independent"}}, "hconcat": [
    {"title": "Tcfcp2l1", "width": 165, "height": 91, "layer": [
      {"data": {"name": "Tcfcp2l1"}, "transform": [{"fold": ["s", "c"]}], "mark": "line", "encoding": {
        "x": {"field": "x", "type": "quantitative", "title": null, "scale": {"domain": [-4.64, 12.64], "nice": false, "zero": false}, "axis": {"values": [-3.75, 0, 4, 8, 11.55], "labelOverlap": false, "labelExpr": "datum.value<-1?'-4kb':datum.value==0?'TSS':datum.value==4?'4kb -4kb':datum.value==8?'TTS':'4kb'"}},
        "y": {"field": "value", "type": "quantitative", "title": "Signal / Correlation", "scale": {"domain": [-0.14, 1.08], "nice": false, "zero": false}, "axis": {"values": [0, 0.2, 0.4, 0.6, 0.8, 1], "labelOverlap": false, "labelExpr": "datum.value==0||datum.value==0.4||datum.value==0.8?format(datum.value,'.1f'):''"}},
        "color": {"field": "key", "type": "nominal", "scale": {"domain": ["s", "c"], "range": ["#2a8a3e", "#27a3cb"]}, "legend": null}}},
      {"data": {"values": [{}]}, "mark": "rule", "encoding": {"x": {"datum": 0}}},
      {"data": {"values": [{}]}, "mark": "rule", "encoding": {"x": {"datum": 8}}},
      {"data": {"values": [{}]}, "mark": {"type": "rule", "strokeDash": [1, 0], "strokeWidth": 2, "color": "#111"}, "encoding": {"x": {"datum": 4}}},
      {"data": {"values": [{}]}, "mark": {"type": "rule", "strokeDash": [6, 4]}, "encoding": {"y": {"datum": 0}}}
    ]},
    {"title": "Zfx", "width": 165, "height": 91, "layer": [
      {"data": {"name": "Zfx"}, "transform": [{"fold": ["s", "c"]}], "mark": "line", "encoding": {
        "x": {"field": "x", "type": "quantitative", "title": null, "scale": {"domain": [-4.64, 12.64], "nice": false, "zero": false}, "axis": {"values": [-3.75, 0, 4, 8, 11.55], "labelOverlap": false, "labelExpr": "datum.value<-1?'-4kb':datum.value==0?'TSS':datum.value==4?'4kb -4kb':datum.value==8?'TTS':'4kb'"}},
        "y": {"field": "value", "type": "quantitative", "title": null, "scale": {"domain": [-0.14, 1.08], "nice": false, "zero": false}, "axis": {"values": [0, 0.2, 0.4, 0.6, 0.8, 1], "labelOverlap": false, "labelExpr": "datum.value==0||datum.value==0.4||datum.value==0.8?format(datum.value,'.1f'):''"}},
        "color": {"field": "key", "type": "nominal", "scale": {"domain": ["s", "c"], "range": ["#2a8a3e", "#27a3cb"]}, "legend": null}}},
      {"data": {"values": [{}]}, "mark": "rule", "encoding": {"x": {"datum": 0}}},
      {"data": {"values": [{}]}, "mark": "rule", "encoding": {"x": {"datum": 8}}},
      {"data": {"values": [{}]}, "mark": {"type": "rule", "strokeDash": [1, 0], "strokeWidth": 2, "color": "#111"}, "encoding": {"x": {"datum": 4}}},
      {"data": {"values": [{}]}, "mark": {"type": "rule", "strokeDash": [6, 4]}, "encoding": {"y": {"datum": 0}}}
    ]},
    {"title": "c\u2212Myc", "width": 165, "height": 91, "layer": [
      {"data": {"name": "c-Myc"}, "transform": [{"fold": ["s", "c"]}], "mark": "line", "encoding": {
        "x": {"field": "x", "type": "quantitative", "title": null, "scale": {"domain": [-4.64, 12.64], "nice": false, "zero": false}, "axis": {"values": [-3.75, 0, 4, 8, 11.55], "labelOverlap": false, "labelExpr": "datum.value<-1?'-4kb':datum.value==0?'TSS':datum.value==4?'4kb -4kb':datum.value==8?'TTS':'4kb'"}},
        "y": {"field": "value", "type": "quantitative", "title": null, "scale": {"domain": [-0.14, 1.08], "nice": false, "zero": false}, "axis": {"values": [0, 0.2, 0.4, 0.6, 0.8, 1], "labelOverlap": false, "labelExpr": "datum.value==0||datum.value==0.4||datum.value==0.8?format(datum.value,'.1f'):''"}},
        "color": {"field": "key", "type": "nominal", "scale": {"domain": ["s", "c"], "range": ["#2a8a3e", "#27a3cb"]}, "legend": null}}},
      {"data": {"values": [{}]}, "mark": "rule", "encoding": {"x": {"datum": 0}}},
      {"data": {"values": [{}]}, "mark": "rule", "encoding": {"x": {"datum": 8}}},
      {"data": {"values": [{}]}, "mark": {"type": "rule", "strokeDash": [1, 0], "strokeWidth": 2, "color": "#111"}, "encoding": {"x": {"datum": 4}}},
      {"data": {"values": [{}]}, "mark": {"type": "rule", "strokeDash": [6, 4]}, "encoding": {"y": {"datum": 0}}}
    ]},
    {"title": "n\u2212Myc", "width": 165, "height": 91, "layer": [
      {"data": {"name": "n-Myc"}, "transform": [{"fold": ["s", "c"]}], "mark": "line", "encoding": {
        "x": {"field": "x", "type": "quantitative", "title": null, "scale": {"domain": [-4.64, 12.64], "nice": false, "zero": false}, "axis": {"values": [-3.75, 0, 4, 8, 11.55], "labelOverlap": false, "labelExpr": "datum.value<-1?'-4kb':datum.value==0?'TSS':datum.value==4?'4kb -4kb':datum.value==8?'TTS':'4kb'"}},
        "y": {"field": "value", "type": "quantitative", "title": null, "scale": {"domain": [-0.14, 1.08], "nice": false, "zero": false}, "axis": {"values": [0, 0.2, 0.4, 0.6, 0.8, 1], "labelOverlap": false, "labelExpr": "datum.value==0||datum.value==0.4||datum.value==0.8?format(datum.value,'.1f'):''"}},
        "color": {"field": "key", "type": "nominal", "scale": {"domain": ["s", "c"], "range": ["#2a8a3e", "#27a3cb"]}, "legend": null}}},
      {"data": {"values": [{}]}, "mark": "rule", "encoding": {"x": {"datum": 0}}},
      {"data": {"values": [{}]}, "mark": "rule", "encoding": {"x": {"datum": 8}}},
      {"data": {"values": [{}]}, "mark": {"type": "rule", "strokeDash": [1, 0], "strokeWidth": 2, "color": "#111"}, "encoding": {"x": {"datum": 4}}},
      {"data": {"values": [{}]}, "mark": {"type": "rule", "strokeDash": [6, 4]}, "encoding": {"y": {"datum": 0}}}
    ]}
   ]}
  ]},
 {"title": {"text": "B", "anchor": "start", "fontSize": 18, "offset": -9},
  "spacing": 15,
  "resolve": {"scale": {"color": "independent"}},
  "vconcat": [
   {"spacing": 21, "resolve": {"scale": {"color": "independent"}}, "hconcat": [
    {"title": "H3K20me3", "width": 165, "height": 91, "layer": [
      {"data": {"name": "H3K20me3"}, "transform": [{"fold": ["s", "c"]}], "mark": "line", "encoding": {
        "x": {"field": "x", "type": "quantitative", "title": null, "scale": {"domain": [-4.64, 12.64], "nice": false, "zero": false}, "axis": {"values": [-3.75, 0, 4, 8, 11.55], "labelOverlap": false, "labelExpr": "datum.value<-1?'-4kb':datum.value==0?'TSS':datum.value==4?'4kb -4kb':datum.value==8?'TTS':'4kb'"}},
        "y": {"field": "value", "type": "quantitative", "title": "Signal / Correlation", "scale": {"domain": [-0.235, 1.06], "nice": false, "zero": false}, "axis": {"values": [-0.2, 0.2, 0.6, 1], "format": ".1f", "labelOverlap": false}},
        "color": {"field": "key", "type": "nominal", "scale": {"domain": ["s", "c"], "range": ["#2a8a3e", "#27a3cb"]}, "legend": {"orient": "none", "legendX": 104, "legendY": 20, "title": null, "symbolType": "stroke", "symbolSize": 130, "symbolStrokeWidth": 1.5, "labelFontSize": 7, "labelFont": "Liberation Sans", "labelExpr": "datum.label=='s'?'Signal':'Correlation'", "rowPadding": -2, "labelOffset": 2, "padding": 0}}}},
      {"data": {"values": [{}]}, "mark": "rule", "encoding": {"x": {"datum": 0}}},
      {"data": {"values": [{}]}, "mark": "rule", "encoding": {"x": {"datum": 8}}},
      {"data": {"values": [{}]}, "mark": {"type": "rule", "strokeDash": [1, 0], "strokeWidth": 2, "color": "#111"}, "encoding": {"x": {"datum": 4}}},
      {"data": {"values": [{}]}, "mark": {"type": "rule", "strokeDash": [6, 4]}, "encoding": {"y": {"datum": 0, "title": "Signal / Correlation", "axis": {"values": [-0.2, 0.2, 0.6, 1], "format": ".1f", "labelOverlap": false}}}}
    ]},
    {"title": "H3K27me3", "width": 165, "height": 91, "layer": [
      {"data": {"name": "H3K27me3"}, "transform": [{"fold": ["s", "c"]}], "mark": "line", "encoding": {
        "x": {"field": "x", "type": "quantitative", "title": null, "scale": {"domain": [-4.64, 12.64], "nice": false, "zero": false}, "axis": {"values": [-3.75, 0, 4, 8, 11.55], "labelOverlap": false, "labelExpr": "datum.value<-1?'-4kb':datum.value==0?'TSS':datum.value==4?'4kb -4kb':datum.value==8?'TTS':'4kb'"}},
        "y": {"field": "value", "type": "quantitative", "title": null, "scale": {"domain": [-0.235, 1.06], "nice": false, "zero": false}, "axis": {"values": [-0.2, 0.2, 0.6, 1], "format": ".1f", "labelOverlap": false}},
        "color": {"field": "key", "type": "nominal", "scale": {"domain": ["s", "c"], "range": ["#2a8a3e", "#27a3cb"]}, "legend": null}}},
      {"data": {"values": [{}]}, "mark": "rule", "encoding": {"x": {"datum": 0}}},
      {"data": {"values": [{}]}, "mark": "rule", "encoding": {"x": {"datum": 8}}},
      {"data": {"values": [{}]}, "mark": {"type": "rule", "strokeDash": [1, 0], "strokeWidth": 2, "color": "#111"}, "encoding": {"x": {"datum": 4}}},
      {"data": {"values": [{}]}, "mark": {"type": "rule", "strokeDash": [6, 4]}, "encoding": {"y": {"datum": 0, "title": null, "axis": {"values": [-0.2, 0.2, 0.6, 1], "format": ".1f", "labelOverlap": false}}}}
    ]},
    {"title": "H3K36me3", "width": 165, "height": 91, "layer": [
      {"data": {"name": "H3K36me3"}, "transform": [{"fold": ["s", "c"]}], "mark": "line", "encoding": {
        "x": {"field": "x", "type": "quantitative", "title": null, "scale": {"domain": [-4.64, 12.64], "nice": false, "zero": false}, "axis": {"values": [-3.75, 0, 4, 8, 11.55], "labelOverlap": false, "labelExpr": "datum.value<-1?'-4kb':datum.value==0?'TSS':datum.value==4?'4kb -4kb':datum.value==8?'TTS':'4kb'"}},
        "y": {"field": "value", "type": "quantitative", "title": null, "scale": {"domain": [-0.235, 1.06], "nice": false, "zero": false}, "axis": {"values": [-0.2, 0.2, 0.6, 1], "format": ".1f", "labelOverlap": false}},
        "color": {"field": "key", "type": "nominal", "scale": {"domain": ["s", "c"], "range": ["#2a8a3e", "#27a3cb"]}, "legend": null}}},
      {"data": {"values": [{}]}, "mark": "rule", "encoding": {"x": {"datum": 0}}},
      {"data": {"values": [{}]}, "mark": "rule", "encoding": {"x": {"datum": 8}}},
      {"data": {"values": [{}]}, "mark": {"type": "rule", "strokeDash": [1, 0], "strokeWidth": 2, "color": "#111"}, "encoding": {"x": {"datum": 4}}},
      {"data": {"values": [{}]}, "mark": {"type": "rule", "strokeDash": [6, 4]}, "encoding": {"y": {"datum": 0, "title": null, "axis": {"values": [-0.2, 0.2, 0.6, 1], "format": ".1f", "labelOverlap": false}}}}
    ]},
    {"title": "H3K9me3", "width": 165, "height": 91, "layer": [
      {"data": {"name": "H3K9me3"}, "transform": [{"fold": ["s", "c"]}], "mark": "line", "encoding": {
        "x": {"field": "x", "type": "quantitative", "title": null, "scale": {"domain": [-4.64, 12.64], "nice": false, "zero": false}, "axis": {"values": [-3.75, 0, 4, 8, 11.55], "labelOverlap": false, "labelExpr": "datum.value<-1?'-4kb':datum.value==0?'TSS':datum.value==4?'4kb -4kb':datum.value==8?'TTS':'4kb'"}},
        "y": {"field": "value", "type": "quantitative", "title": null, "scale": {"domain": [-0.235, 1.06], "nice": false, "zero": false}, "axis": {"values": [-0.2, 0.2, 0.6, 1], "format": ".1f", "labelOverlap": false}},
        "color": {"field": "key", "type": "nominal", "scale": {"domain": ["s", "c"], "range": ["#2a8a3e", "#27a3cb"]}, "legend": null}}},
      {"data": {"values": [{}]}, "mark": "rule", "encoding": {"x": {"datum": 0}}},
      {"data": {"values": [{}]}, "mark": "rule", "encoding": {"x": {"datum": 8}}},
      {"data": {"values": [{}]}, "mark": {"type": "rule", "strokeDash": [1, 0], "strokeWidth": 2, "color": "#111"}, "encoding": {"x": {"datum": 4}}},
      {"data": {"values": [{}]}, "mark": {"type": "rule", "strokeDash": [6, 4]}, "encoding": {"y": {"datum": 0, "title": null, "axis": {"values": [-0.2, 0.2, 0.6, 1], "format": ".1f", "labelOverlap": false}}}}
    ]}
   ]},
   {"spacing": 21, "resolve": {"scale": {"color": "independent"}}, "hconcat": [
    {"title": "H3K4me1", "width": 165, "height": 91, "layer": [
      {"data": {"name": "H3K4me1"}, "transform": [{"fold": ["s", "c"]}], "mark": "line", "encoding": {
        "x": {"field": "x", "type": "quantitative", "title": null, "scale": {"domain": [-4.64, 12.64], "nice": false, "zero": false}, "axis": {"values": [-3.75, 0, 4, 8, 11.55], "labelOverlap": false, "labelExpr": "datum.value<-1?'-4kb':datum.value==0?'TSS':datum.value==4?'4kb -4kb':datum.value==8?'TTS':'4kb'"}},
        "y": {"field": "value", "type": "quantitative", "title": "Signal / Correlation", "scale": {"domain": [-0.235, 1.06], "nice": false, "zero": false}, "axis": {"values": [-0.2, 0.2, 0.6, 1], "format": ".1f", "labelOverlap": false}},
        "color": {"field": "key", "type": "nominal", "scale": {"domain": ["s", "c"], "range": ["#2a8a3e", "#27a3cb"]}, "legend": null}}},
      {"data": {"values": [{}]}, "mark": "rule", "encoding": {"x": {"datum": 0}}},
      {"data": {"values": [{}]}, "mark": "rule", "encoding": {"x": {"datum": 8}}},
      {"data": {"values": [{}]}, "mark": {"type": "rule", "strokeDash": [1, 0], "strokeWidth": 2, "color": "#111"}, "encoding": {"x": {"datum": 4}}},
      {"data": {"values": [{}]}, "mark": {"type": "rule", "strokeDash": [6, 4]}, "encoding": {"y": {"datum": 0, "title": "Signal / Correlation", "axis": {"values": [-0.2, 0.2, 0.6, 1], "format": ".1f", "labelOverlap": false}}}}
    ]},
    {"title": "H3K4me2", "width": 165, "height": 91, "layer": [
      {"data": {"name": "H3K4me2"}, "transform": [{"fold": ["s", "c"]}], "mark": "line", "encoding": {
        "x": {"field": "x", "type": "quantitative", "title": null, "scale": {"domain": [-4.64, 12.64], "nice": false, "zero": false}, "axis": {"values": [-3.75, 0, 4, 8, 11.55], "labelOverlap": false, "labelExpr": "datum.value<-1?'-4kb':datum.value==0?'TSS':datum.value==4?'4kb -4kb':datum.value==8?'TTS':'4kb'"}},
        "y": {"field": "value", "type": "quantitative", "title": null, "scale": {"domain": [-0.235, 1.06], "nice": false, "zero": false}, "axis": {"values": [-0.2, 0.2, 0.6, 1], "format": ".1f", "labelOverlap": false}},
        "color": {"field": "key", "type": "nominal", "scale": {"domain": ["s", "c"], "range": ["#2a8a3e", "#27a3cb"]}, "legend": null}}},
      {"data": {"values": [{}]}, "mark": "rule", "encoding": {"x": {"datum": 0}}},
      {"data": {"values": [{}]}, "mark": "rule", "encoding": {"x": {"datum": 8}}},
      {"data": {"values": [{}]}, "mark": {"type": "rule", "strokeDash": [1, 0], "strokeWidth": 2, "color": "#111"}, "encoding": {"x": {"datum": 4}}},
      {"data": {"values": [{}]}, "mark": {"type": "rule", "strokeDash": [6, 4]}, "encoding": {"y": {"datum": 0, "title": null, "axis": {"values": [-0.2, 0.2, 0.6, 1], "format": ".1f", "labelOverlap": false}}}}
    ]},
    {"title": "H3K4me3", "width": 165, "height": 91, "layer": [
      {"data": {"name": "H3K4me3"}, "transform": [{"fold": ["s", "c"]}], "mark": "line", "encoding": {
        "x": {"field": "x", "type": "quantitative", "title": null, "scale": {"domain": [-4.64, 12.64], "nice": false, "zero": false}, "axis": {"values": [-3.75, 0, 4, 8, 11.55], "labelOverlap": false, "labelExpr": "datum.value<-1?'-4kb':datum.value==0?'TSS':datum.value==4?'4kb -4kb':datum.value==8?'TTS':'4kb'"}},
        "y": {"field": "value", "type": "quantitative", "title": null, "scale": {"domain": [-0.235, 1.06], "nice": false, "zero": false}, "axis": {"values": [-0.2, 0.2, 0.6, 1], "format": ".1f", "labelOverlap": false}},
        "color": {"field": "key", "type": "nominal", "scale": {"domain": ["s", "c"], "range": ["#2a8a3e", "#27a3cb"]}, "legend": null}}},
      {"data": {"values": [{}]}, "mark": "rule", "encoding": {"x": {"datum": 0}}},
      {"data": {"values": [{}]}, "mark": "rule", "encoding": {"x": {"datum": 8}}},
      {"data": {"values": [{}]}, "mark": {"type": "rule", "strokeDash": [1, 0], "strokeWidth": 2, "color": "#111"}, "encoding": {"x": {"datum": 4}}},
      {"data": {"values": [{}]}, "mark": {"type": "rule", "strokeDash": [6, 4]}, "encoding": {"y": {"datum": 0, "title": null, "axis": {"values": [-0.2, 0.2, 0.6, 1], "format": ".1f", "labelOverlap": false}}}}
    ]}
   ]}
  ]}
]
}
